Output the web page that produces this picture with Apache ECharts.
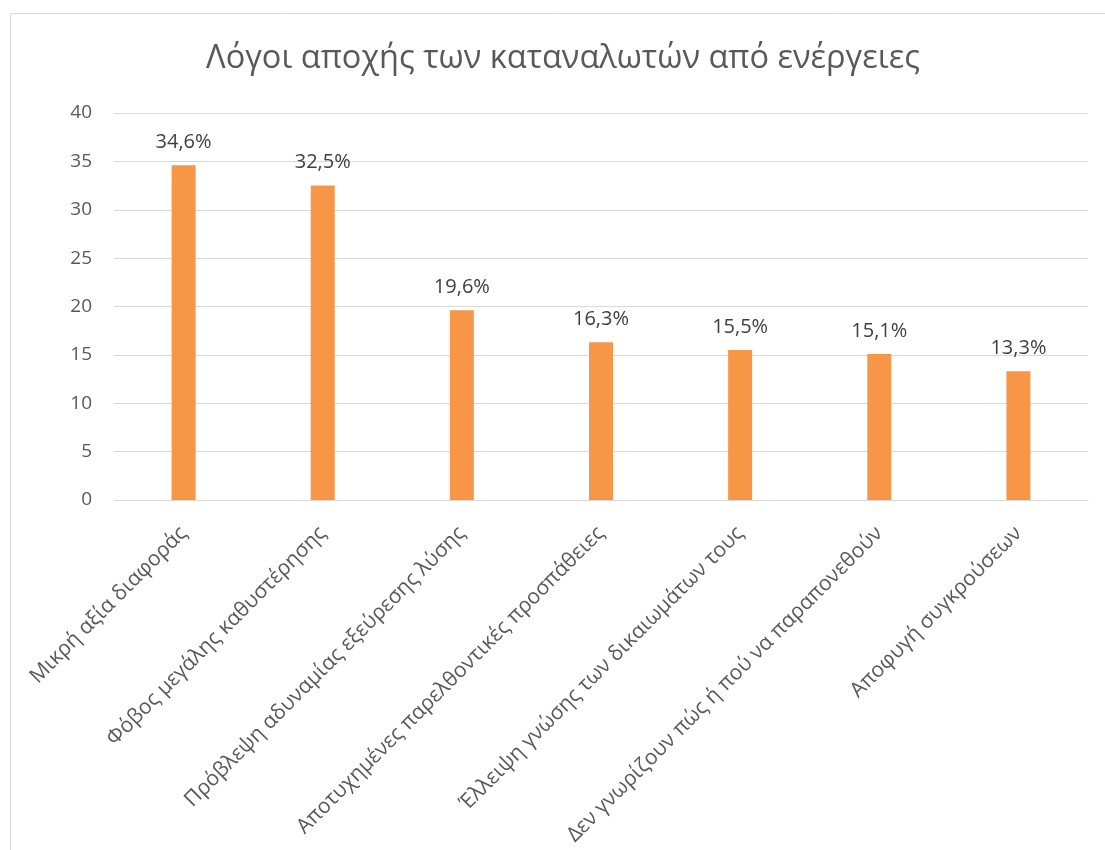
<!DOCTYPE html>
<html><head><meta charset="utf-8">
<script src="https://cdn.jsdelivr.net/npm/echarts@6/dist/echarts.min.js"></script>
<style>html,body{margin:0;padding:0;background:#fff}#c{width:1105px;height:850px}</style>
</head><body><div id="c"></div>
<script>
const title = 'Λόγοι αποχής των καταναλωτών από ενέργειες';
const categories = ['Μικρή αξία διαφοράς','Φόβος μεγάλης καθυστέρησης','Πρόβλεψη αδυναμίας εξεύρεσης λύσης','Αποτυχημένες παρελθοντικές προσπάθειες','Έλλειψη γνώσης των δικαιωμάτων τους','Δεν γνωρίζουν πώς ή πού να παραπονεθούν','Αποφυγή συγκρούσεων'];
const values = [34.6, 32.5, 19.6, 16.3, 15.5, 15.1, 13.3];
const yTicks = {min: 0, max: 40, interval: 5};
const FONT = '"Open Sans", sans-serif';
const chart = echarts.init(document.getElementById('c'));
chart.setOption({
  animation: false,
  textStyle: {fontFamily: FONT},
  graphic: [{type: 'rect', shape: {x: 10.5, y: 13.5, width: 1200, height: 900}, style: {fill: 'none', stroke: '#d9d9d9', lineWidth: 1}}],
  title: {text: title, left: 558, textAlign: 'center', top: 37, textStyle: {fontFamily: FONT, fontSize: 32.5, fontWeight: 'normal', color: '#595959'}},
  grid: {left: 114, right: 17, top: 113, bottom: 350, containLabel: false},
  xAxis: {type: 'category', data: categories,
    axisLine: {lineStyle: {color: '#d9d9d9', width: 1}}, axisTick: {show: false},
    axisLabel: {rotate: 45, interval: 0, fontSize: 21, color: '#595959', margin: 30, fontFamily: FONT}},
  yAxis: {type: 'value', min: yTicks.min, max: yTicks.max, interval: yTicks.interval,
    axisLine: {show: false}, axisTick: {show: false},
    splitLine: {lineStyle: {color: '#d9d9d9', width: 1}},
    axisLabel: {fontSize: 19, color: '#595959', margin: 22, fontFamily: FONT}},
  series: [{type: 'bar', data: values, barWidth: 24, itemStyle: {color: '#F79646'},
    label: {show: true, position: 'top', distance: 13, fontSize: 20, color: '#404040', fontFamily: FONT,
      formatter: p => p.value.toFixed(1).replace('.', ',') + '%'}}]
});
</script></body></html>
